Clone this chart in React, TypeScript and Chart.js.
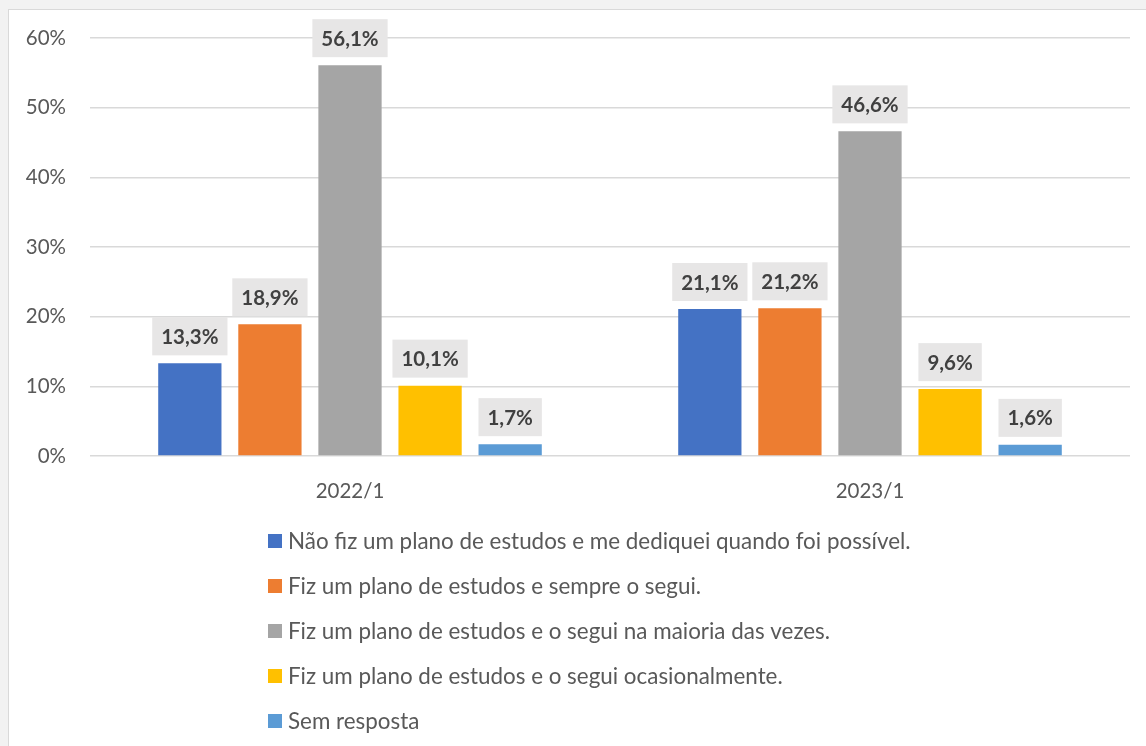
import React, { useEffect, useRef } from "react";
import { Chart, registerables } from "chart.js";

Chart.register(...registerables);

const categories = ["2022/1", "2023/1"];
const seriesLabels = [
  "Não fiz um plano de estudos e me dediquei quando foi possível.",
  "Fiz um plano de estudos e sempre o segui.",
  "Fiz um plano de estudos e o segui na maioria das vezes.",
  "Fiz um plano de estudos e o segui ocasionalmente.",
  "Sem resposta",
];
const naoFiz = [13.3, 21.1];
const sempre = [18.9, 21.2];
const maioria = [56.1, 46.6];
const ocasional = [10.1, 9.6];
const semResposta = [1.7, 1.6];
const seriesValues = [naoFiz, sempre, maioria, ocasional, semResposta];
const seriesColors = ["#4472c4", "#ed7d31", "#a5a5a5", "#ffc000", "#5b9bd5"];
const yTicks = [0, 10, 20, 30, 40, 50, 60];

const FONT = "Lato, 'Open Sans', sans-serif";

const fmt = (v: number) => v.toFixed(1).replace(".", ",") + "%";

const labelPlugin = {
  id: "boxLabels",
  afterDatasetsDraw(chart: any) {
    const ctx = chart.ctx;
    ctx.save();
    ctx.font = `bold 20.5px ${FONT}`;
    ctx.textAlign = "center";
    ctx.textBaseline = "middle";
    chart.data.datasets.forEach((ds: any, di: number) => {
      const meta = chart.getDatasetMeta(di);
      meta.data.forEach((bar: any, i: number) => {
        const text = fmt(ds.data[i]);
        const w = ctx.measureText(text).width + 18;
        const h = 38;
        const bottom = bar.y - 8;
        ctx.fillStyle = "#e7e6e6";
        ctx.fillRect(bar.x - w / 2, bottom - h, w, h);
        ctx.fillStyle = "#404040";
        ctx.fillText(text, bar.x, bottom - h / 2 + 1);
      });
    });
    ctx.restore();
  },
};

const legendPlugin = {
  id: "vertLegend",
  afterDraw(chart: any) {
    const ctx = chart.ctx;
    ctx.save();
    ctx.font = `22.4px ${FONT}`;
    ctx.textAlign = "left";
    ctx.textBaseline = "middle";
    chart.data.datasets.forEach((ds: any, di: number) => {
      const cy = 531 + di * 45;
      ctx.fillStyle = ds.backgroundColor;
      ctx.fillRect(259, cy - 7, 14, 14);
      ctx.fillStyle = "#595959";
      ctx.fillText(ds.label, 279, cy + 1);
    });
    ctx.restore();
  },
};

export default function App() {
  const ref = useRef<HTMLCanvasElement>(null);
  useEffect(() => {
    document.body.style.margin = "0";
    const chart = new Chart(ref.current as HTMLCanvasElement, {
      type: "bar",
      data: {
        labels: categories,
        datasets: seriesValues.map((vals, i) => ({
          label: seriesLabels[i],
          data: vals,
          backgroundColor: seriesColors[i],
          borderWidth: 0,
          categoryPercentage: 0.77,
          barPercentage: 0.79,
        })),
      },
      options: {
        responsive: false,
        animation: false,
        devicePixelRatio: 1,
        layout: { padding: { left: 0, right: 16, top: 28, bottom: 230 } },
        plugins: {
          legend: { display: false },
          tooltip: { enabled: false },
          title: { display: false },
        },
        scales: {
          x: {
            grid: { display: false, drawTicks: false },
            border: { display: false },
            ticks: {
              color: "#595959",
              font: { family: FONT, size: 20.5 },
              padding: 23,
            },
            afterFit: (s: any) => {
              s.height = 60;
              s.paddingLeft = 0;
              s.paddingRight = 0;
            },
          },
          y: {
            min: 0,
            max: 60,
            afterBuildTicks: (s: any) => {
              s.ticks = yTicks.map((v) => ({ value: v }));
            },
            grid: { color: "#d9d9d9", lineWidth: 1.5, drawTicks: false },
            border: { display: false },
            ticks: {
              color: "#595959",
              font: { family: FONT, size: 20.5 },
              padding: 24,
              callback: (v: any) => v + "%",
            },
            afterFit: (s: any) => {
              s.width = 81;
              s.paddingTop = 0;
              s.paddingBottom = 0;
            },
          },
        },
      },
      plugins: [labelPlugin, legendPlugin],
    });
    return () => chart.destroy();
  }, []);

  return (
    <div
      style={{
        position: "relative",
        width: 1146,
        height: 746,
        overflow: "hidden",
        background: "#f2f2f2",
      }}
    >
      <div
        style={{
          position: "absolute",
          left: 8,
          top: 9,
          width: 1200,
          height: 800,
          background: "#ffffff",
          border: "1px solid #d9d9d9",
        }}
      >
        <canvas ref={ref} width={1137} height={736} style={{ display: "block" }} />
      </div>
    </div>
  );
}
